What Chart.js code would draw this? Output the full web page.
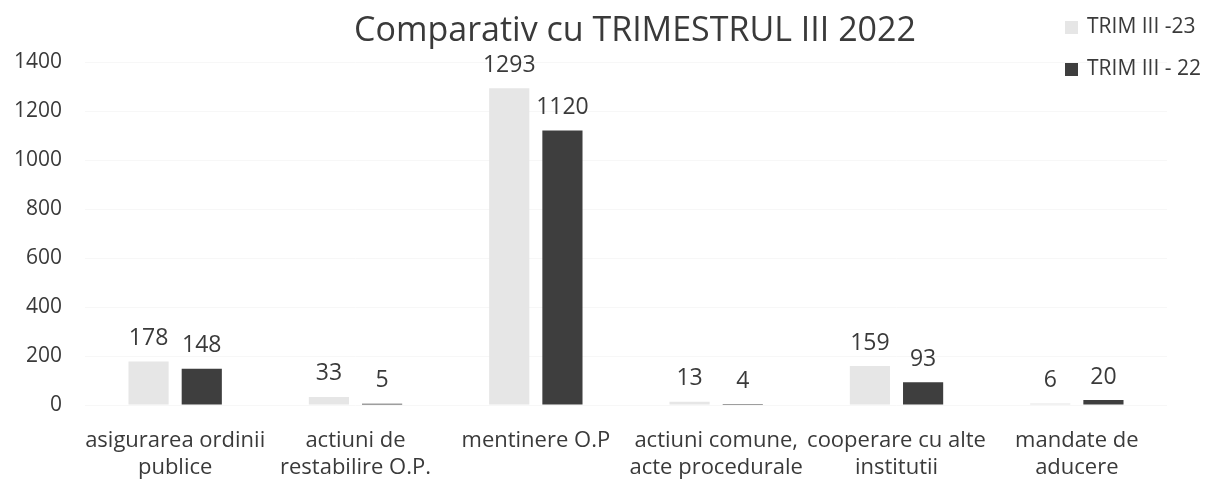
<!DOCTYPE html>
<html>
<head>
<meta charset="utf-8">
<script src="https://cdn.jsdelivr.net/npm/chart.js@4.4.0/dist/chart.umd.min.js"></script>
<style>
  html, body { margin: 0; padding: 0; background: #fff; }
  #wrap { width: 1212px; height: 481px; position: relative; }
</style>
</head>
<body>
<div id="wrap"><canvas id="chart" width="1212" height="481"></canvas></div>
<script>
const titleText = 'Comparativ cu TRIMESTRUL III 2022';
const categories = [
  ['asigurarea ordinii', 'publice'],
  ['actiuni de', 'restabilire O.P.'],
  ['mentinere O.P'],
  ['actiuni comune,', 'acte procedurale'],
  ['cooperare cu alte', 'institutii'],
  ['mandate de', 'aducere']
];
const seriesNames = ['TRIM III -23', 'TRIM III - 22'];
const trim23 = [178, 33, 1293, 13, 159, 6];
const trim22 = [148, 5, 1120, 4, 93, 20];
const yTicks = [0, 200, 400, 600, 800, 1000, 1200, 1400];

const textColor = '#3a3a3a';
const fontName = '"Open Sans", Lato, sans-serif';

// value labels above bars, title and legend drawn by hand
const extras = {
  id: 'extras',
  afterDatasetsDraw(chart) {
    const ctx = chart.ctx;
    ctx.save();
    ctx.fillStyle = textColor;
    ctx.textAlign = 'center';
    ctx.textBaseline = 'middle';
    ctx.font = '23px ' + fontName;
    chart.data.datasets.forEach((ds, i) => {
      chart.getDatasetMeta(i).data.forEach((bar, j) => {
        ctx.fillText(ds.data[j], bar.x, bar.y - 23);
      });
    });

    ctx.font = '34px ' + fontName;
    ctx.fillText(titleText, 635, 31);

    ctx.textAlign = 'left';
    ctx.font = '21px ' + fontName;
    chart.data.datasets.forEach((ds, i) => {
      const y = 27 + i * 42;
      ctx.fillStyle = ds.backgroundColor;
      ctx.fillRect(1065, y - 6, 13, 13);
      ctx.fillStyle = textColor;
      ctx.fillText(ds.label, 1087, y);
    });
    ctx.restore();
  }
};

new Chart(document.getElementById('chart'), {
  type: 'bar',
  data: {
    labels: categories,
    datasets: [
      { label: seriesNames[0], data: trim23, backgroundColor: '#e6e6e6' },
      { label: seriesNames[1], data: trim22, backgroundColor: '#3e3e3e' }
    ]
  },
  options: {
    responsive: false,
    animation: false,
    layout: { padding: { top: 62, right: 45, bottom: 0, left: 0 } },
    datasets: { bar: { categoryPercentage: 0.59, barPercentage: 0.755 } },
    plugins: { legend: { display: false }, title: { display: false }, tooltip: { enabled: false } },
    scales: {
      x: {
        grid: { display: false, drawTicks: false },
        border: { display: false },
        ticks: { color: textColor, font: { family: fontName, size: 22, lineHeight: 1.23 }, padding: 22, maxRotation: 0, autoSkip: false },
        afterFit(s) { s.height = 76; }
      },
      y: {
        min: 0,
        max: 1400,
        grid: { color: '#f7f7f7', drawTicks: false },
        border: { display: false },
        afterBuildTicks(s) { s.ticks = yTicks.map(v => ({ value: v })); },
        ticks: { color: textColor, font: { family: fontName, size: 21 }, padding: 23, callback: v => String(v) },
        afterFit(s) { s.width = 85; }
      }
    }
  },
  plugins: [extras]
});
</script>
</body>
</html>
